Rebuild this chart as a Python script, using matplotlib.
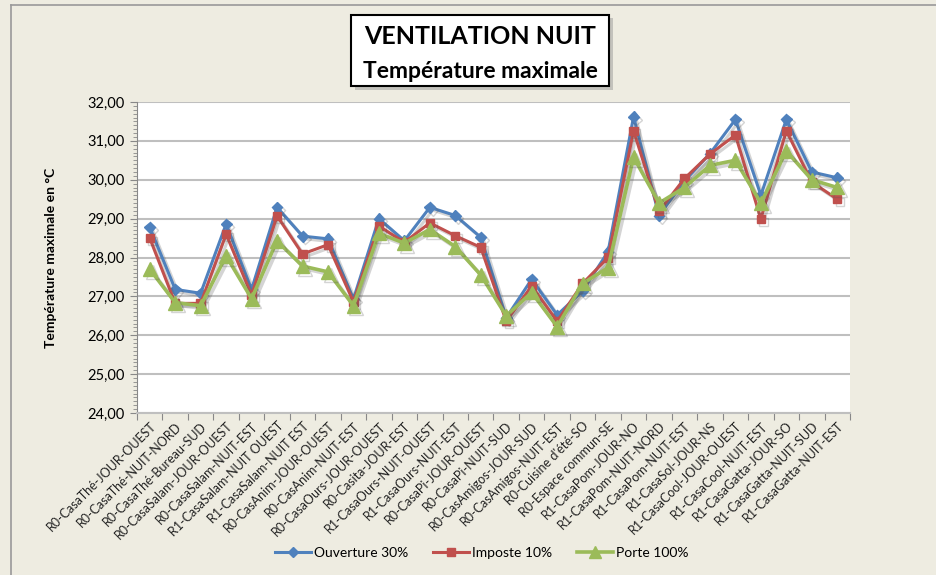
import matplotlib.pyplot as plt
import matplotlib.patheffects as pe
from matplotlib.patches import Rectangle
from matplotlib.ticker import MultipleLocator, FuncFormatter

plt.rcParams['font.family'] = ['Lato', 'DejaVu Sans']

# categories (rooms)
pieces = [
    'R0-CasaThé-JOUR-OUEST', 'R0-CasaThé-NUIT-NORD', 'R0-CasaThé-Bureau-SUD',
    'R0-CasaSalam-JOUR-OUEST', 'R0-CasaSalam-NUIT-EST', 'R1-CasaSalam-NUIT OUEST',
    'R1-CasaSalam-NUIT EST', 'R0-CasAnim-JOUR-OUEST', 'R0-CasAnim-NUIT-EST',
    'R0-CasaOurs-JOUR-OUEST', 'R0-Casita-JOUR-EST', 'R1-CasaOurs-NUIT-OUEST',
    'R1-CasaOurs-NUIT-EST', 'R0-CasaPi-JOUR-OUEST', 'R0-CasaPi-NUIT-SUD',
    'R0-CasAmigos-JOUR-SUD', 'R0-CasAmigos-NUIT-EST', "R0-Cuisine d'été-SO",
    'R0-Espace commun-SE', 'R1-CasaPom-JOUR-NO', 'R1-CasaPom-NUIT-NORD',
    'R1-CasaPom-NUIT-EST', 'R1-CasaSol-JOUR-NS', 'R1-CasaCool-JOUR-OUEST',
    'R1-CasaCool-NUIT-EST', 'R1-CasaGatta-JOUR-SO', 'R1-CasaGatta-NUIT-SUD',
    'R1-CasaGatta-NUIT-EST',
]

# max temperatures per scenario
ouverture_30 = [28.78, 27.18, 27.08, 28.86, 27.18, 29.29, 28.55, 28.48, 26.93, 29.00,
                28.43, 29.29, 29.08, 28.52, 26.45, 27.44, 26.52, 27.14, 28.15, 31.62,
                29.08, 29.97, 30.67, 31.55, 29.60, 31.55, 30.20, 30.05]
imposte_10 = [28.50, 26.82, 26.82, 28.60, 27.03, 29.07, 28.09, 28.33, 26.86, 28.81,
              28.39, 28.89, 28.56, 28.26, 26.36, 27.27, 26.36, 27.33, 28.00, 31.26,
              29.19, 30.03, 30.66, 31.15, 28.99, 31.26, 29.94, 29.50]
porte_100 = [27.70, 26.84, 26.76, 28.04, 26.94, 28.43, 27.78, 27.63, 26.76, 28.62,
             28.37, 28.72, 28.28, 27.55, 26.50, 27.10, 26.22, 27.33, 27.74, 30.58,
             29.40, 29.80, 30.37, 30.50, 29.40, 30.74, 30.00, 29.80]

bg = '#EEECE1'
fig = plt.figure(figsize=(9.37, 5.75), dpi=100, facecolor=bg)
ax = fig.add_axes([137/937, 1-413/575, (850-137)/937, (413-102)/575])
ax.set_facecolor('white')

x = list(range(len(pieces)))
shadow = [pe.SimpleLineShadow(offset=(2, -2), alpha=0.25, shadow_color='#555555'), pe.Normal()]
l1, = ax.plot(x, ouverture_30, color='#4F81BD', lw=2.2, marker='D', ms=5.5,
              path_effects=shadow, zorder=3)
l2, = ax.plot(x, imposte_10, color='#C0504D', lw=2.2, marker='s', ms=6,
              path_effects=shadow, zorder=4)
l3, = ax.plot(x, porte_100, color='#9BBB59', lw=2.6, marker='^', ms=10,
              path_effects=shadow, zorder=5)

ax.set_xlim(-0.5, len(pieces) - 0.5)
ax.set_ylim(24, 32)
ax.yaxis.set_major_locator(MultipleLocator(1))
ax.yaxis.set_minor_locator(MultipleLocator(0.1))
ax.yaxis.set_major_formatter(FuncFormatter(lambda v, p: f'{v:.2f}'.replace('.', ',')))
ax.grid(axis='y', color='#BFBFBF', lw=1.5)
ax.set_axisbelow(True)

# category ticks at boundaries, labels at centres
ax.set_xticks([i - 0.5 for i in range(len(pieces) + 1)])
ax.set_xticklabels([])
ax.set_xticks(x, minor=True)
ax.set_xticklabels(pieces, minor=True, rotation=45, ha='right', rotation_mode='anchor',
                   fontsize=9, color='#222222')
ax.tick_params(axis='x', which='minor', length=0, pad=5)
ax.tick_params(axis='x', which='major', length=5, color='#888888')
ax.tick_params(axis='y', which='major', length=5, color='#888888', labelsize=10.5, pad=4)
ax.tick_params(axis='y', which='minor', length=3, color='#888888')

for s in ['top', 'right']:
    ax.spines[s].set_visible(False)
ax.spines['left'].set_color('#888888')
ax.spines['bottom'].set_color('#BFBFBF')
ax.spines['bottom'].set_linewidth(1.5)

ax.set_ylabel('Température maximale en °C', fontsize=10, fontweight='bold', labelpad=22)

# title box
fig.patches.append(Rectangle((355/937, 1-90/575), 258/937, 72/575, transform=fig.transFigure,
                             facecolor='#999999', edgecolor='none', alpha=0.5, zorder=1))
fig.patches.append(Rectangle((351/937, 1-86/575), 258/937, 71/575, transform=fig.transFigure,
                             facecolor='white', edgecolor='black', lw=1.5, zorder=2))
fig.text(480/937, 1-37/575, 'VENTILATION NUIT', ha='center', va='center',
         fontsize=18, fontweight='bold', zorder=3)
fig.text(480/937, 1-71/575, 'Température maximale', ha='center', va='center',
         fontsize=16.5, fontweight='bold', zorder=3)

# chart border lines
fig.add_artist(plt.Line2D([11/937, 11/937], [0, 1-5/575], color='#999999', lw=1.2))
fig.add_artist(plt.Line2D([11/937, 1], [1-5/575, 1-5/575], color='#999999', lw=1.2))

# legend handles without shadow
h1 = plt.Line2D([], [], color='#4F81BD', lw=2.2, marker='D', ms=5)
h2 = plt.Line2D([], [], color='#C0504D', lw=2.2, marker='s', ms=6)
h3 = plt.Line2D([], [], color='#9BBB59', lw=2.6, marker='^', ms=8)
fig.legend([h1, h2, h3], ['Ouverture 30%', 'Imposte 10%', 'Porte 100%'],
           loc='center', bbox_to_anchor=(482/937, 1-553/575), ncol=3, frameon=False,
           fontsize=10, handlelength=2.6, columnspacing=1.8, handletextpad=0.2)

plt.savefig('out.png', dpi=100, facecolor=bg)
